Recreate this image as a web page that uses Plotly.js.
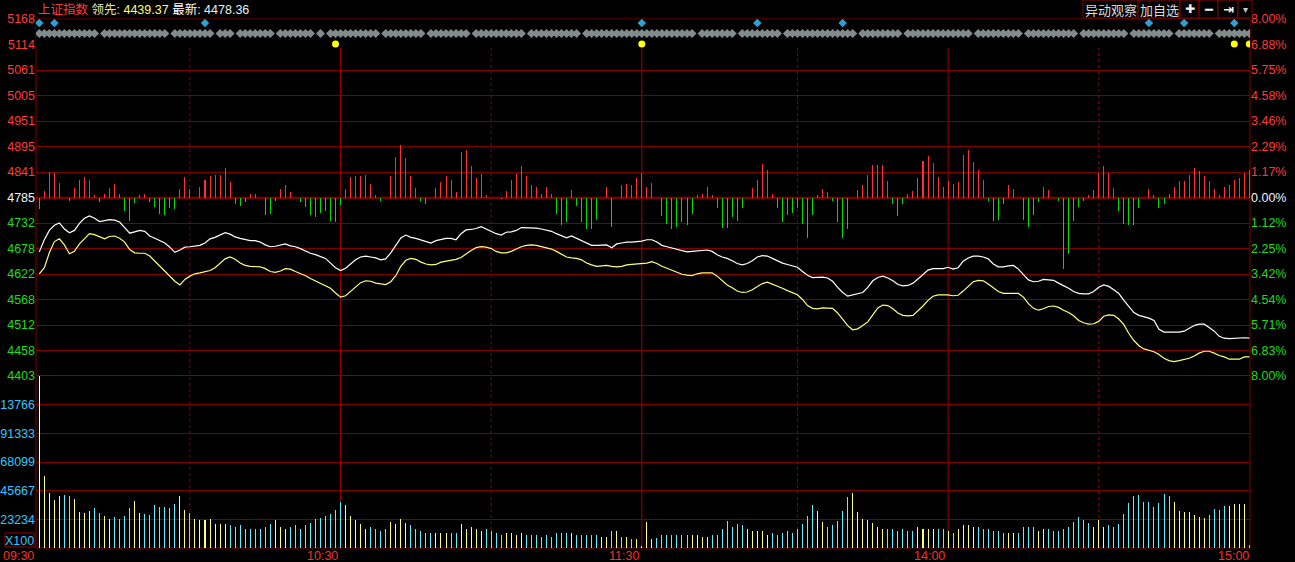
<!DOCTYPE html>
<html><head><meta charset="utf-8">
<script src="https://cdn.plot.ly/plotly-3.0.1.min.js"></script>
<style>html,body{margin:0;padding:0;background:#000;overflow:hidden}#chart{width:1295px;height:562px}
#chart .trace.bars path{shape-rendering:crispEdges !important}</style>
</head><body><div id="chart"></div>
<script>
// ---------------- data ----------------
const prevClose = 4785;
const priceMin = 4403, priceMax = 5168;
const priceLabelsTopDown = ['5168','5114','5061','5005','4951','4895','4841','4785','4732','4678','4622','4568','4512','4458','4403'];
const pctLabelsTopDown = ['8.00%','6.88%','5.75%','4.58%','3.46%','2.29%','1.17%','0.00%','1.12%','2.25%','3.42%','4.54%','5.71%','6.83%','8.00%'];
const volTickLabels = ['23234','45667','68099','91333','13766'];
const volStep = 22753;
const timeLabels = ['09:30','10:30','11:30','14:00','15:00'];
const timeIdx = [0,60,120,181,241];
const halfHourIdx = [30,90,151,211];
const headerName = '上证指数';
const leadLabel = '领先:', leadValue = '4439.37';
const lastLabel = '最新:', lastValue = '4478.36';

// buy/sell strength bars (index points relative to previous close)
const bsBars = [
 -25,14,55,53,31,-1,-8,20,37,44, 37,6,-10,7,20,29,7,-29,-49,-12, 5,9,-10,-19,-34,-38,-21,-25,18,44,
 18,-1,24,37,46,48,48,63,33,-14, -17,-10,7,9,-1,-36,-34,-6,18,27, 12,-1,-10,-19,-36,-42,-32,-29,-49,-51,
 -16,18,44,46,46,48,29,5,-6,-1, 46,87,112,85,46,20,-8,-14,-1,20, 33,46,37,12,97,102,67,42,50,5, -1,
 -1,-2,14,37,50,67,46,27,24,9, 22,7,-34,-59,-53,16,-17,-53,-66,-68, -47,-1,22,-62,-1,27,29,27,42,52,
 24,31,-1,-40,-57,-68,-62,-51,-59,-34, 5,9,22,5,-21,-64,-64,-42,-49,-23, -1,20,39,72,59,7,-21,-51,-36,-32,
 -23,-57,-87,-36,5,18,12,-6,-53,-87, -68,-1,16,27,48,70,70,70,35,-14, -40,-14,9,14,42,78,89,74,44,22,
 35,29,33,91,102,76,59,39,-8,-49, -47,-14,27,18,-1,-47,-62,-38,-10,22, 16,-1,-6,-152,-120,-49,-19,-6,5,16, 54,
 67,54,20,-29,-57,-59,-59,-23,-1,18, 5,-23,-14,7,22,35,35,48,63,57, 46,35,18,5,22,27,37,42,52,59
];
// weighted index (white line)
const indexLine = [
 4669,4695,4715,4726,4731,4718,4710,4715,4730,4741, 4746,4741,4734,4736,4738,4737,4733,4721,4709,4712, 4715,4713,4703,4698,4693,4688,4679,4668,4673,4679,
 4680,4681,4683,4688,4697,4700,4705,4710,4707,4701, 4698,4695,4693,4693,4690,4684,4680,4681,4684,4686, 4682,4680,4676,4671,4666,4663,4659,4655,4645,4635,
 4629,4634,4643,4652,4658,4660,4658,4656,4652,4654, 4667,4683,4699,4705,4700,4698,4695,4691,4688,4693, 4695,4698,4698,4695,4708,4716,4717,4719,4723,4718, 4713,
 4708,4705,4711,4712,4715,4721,4721,4721,4720,4718, 4716,4713,4708,4703,4699,4703,4698,4693,4688,4683, 4683,4684,4684,4678,4686,4688,4690,4690,4691,4692,
 4695,4695,4690,4683,4680,4677,4674,4672,4669,4670, 4671,4673,4673,4670,4663,4658,4655,4650,4644,4641, 4644,4650,4658,4661,4660,4655,4650,4645,4642,4639,
 4636,4627,4619,4614,4614,4615,4613,4606,4593,4582, 4574,4577,4579,4582,4593,4607,4614,4617,4613,4607, 4599,4596,4597,4602,4611,4621,4630,4633,4633,4633,
 4636,4632,4635,4649,4656,4660,4660,4658,4654,4643, 4637,4637,4639,4640,4632,4620,4609,4605,4606,4610, 4609,4608,4602,4597,4591,4584,4580,4579,4579,4584, 4593,
 4598,4595,4588,4580,4565,4551,4539,4533,4530,4527, 4522,4503,4497,4497,4497,4497,4499,4505,4511,4514, 4514,4507,4499,4488,4484,4483,4484,4485,4485,4484
];
// leading (unweighted) index (yellow line)
const leadLine = [
 4622,4635,4667,4691,4697,4684,4665,4670,4686,4697, 4708,4706,4701,4697,4702,4703,4698,4690,4674,4667, 4666,4666,4660,4649,4638,4628,4617,4606,4598,4610,
 4617,4622,4624,4626,4629,4635,4645,4654,4658,4653, 4645,4640,4638,4638,4637,4633,4627,4625,4628,4633, 4632,4627,4623,4618,4612,4607,4602,4597,4591,4581,
 4572,4575,4584,4595,4603,4607,4606,4602,4600,4599, 4605,4618,4638,4651,4655,4653,4647,4643,4641,4642, 4647,4649,4652,4653,4657,4665,4672,4678,4680,4679, 4676,
 4670,4667,4667,4670,4675,4680,4683,4684,4683,4680, 4678,4675,4670,4664,4658,4656,4655,4652,4645,4641, 4638,4639,4640,4638,4637,4638,4641,4642,4643,4643,
 4645,4648,4644,4638,4634,4630,4625,4621,4619,4618, 4622,4624,4624,4624,4617,4607,4598,4592,4585,4582, 4583,4588,4595,4601,4604,4600,4595,4591,4586,4582,
 4577,4567,4554,4548,4547,4549,4549,4548,4538,4524, 4511,4502,4504,4511,4519,4534,4549,4555,4554,4547, 4538,4533,4532,4533,4542,4553,4565,4574,4577,4577,
 4577,4575,4576,4585,4595,4605,4608,4607,4600,4591, 4584,4580,4580,4580,4580,4572,4558,4548,4544,4547, 4552,4553,4550,4544,4539,4532,4522,4517,4514,4515, 4520,
 4531,4534,4533,4525,4513,4494,4479,4468,4461,4458, 4455,4449,4441,4436,4434,4436,4438,4441,4446,4452, 4456,4456,4452,4447,4444,4439,4439,4439,4444,4444
];
// volume (x100)
const volume = [
 136500,57340,43910,38230,41180,42090,41180,38910,28670,27760, 29350,31630,27530,25260,22750,24350,22750,25260,31630,37320, 27530,26850,25940,33900,32310,32310,31630,34810,41180,30030,
 27530,22750,21840,21840,22750,18660,18660,18660,17970,17060, 17970,15470,14790,14790,15470,17060,18660,21840,17060,15470, 16380,17970,14790,17970,19570,22750,23660,25260,26850,30030,
 36400,33900,25260,21840,18660,15470,17060,15470,13880,14790, 20250,18660,22750,19570,17970,15470,13200,11600,11600,11600, 12290,11600,12290,11600,18660,15470,17060,14790,13880,14790, 13880,
 12290,10010,11600,12290,10010,12290,10690,10690,10690,9100, 10010,9100,11600,11600,11600,12290,10690,10010,10690,10690, 10010,9100,9100,13880,13880,9100,9100,7510,7510,1820,
 20250,7510,8190,10010,10010,10690,10690,10690,10690,10690, 10690,9100,9100,10010,10690,15470,21160,17060,18660,17970, 14790,13880,13880,13200,10010,11600,10010,12290,13880,11600,
 15470,18660,25260,33900,29120,20250,17060,17970,21160,29120, 40500,43690,28440,22750,21840,19570,16380,14790,14790,14790, 13880,14790,13880,13880,17060,14790,15470,15470,14790,14790,
 13880,11600,14790,17970,17970,17060,16380,15470,15470,13880, 13200,11600,12290,12290,12290,16380,17060,16380,13880,14790, 15470,13880,13880,14790,17060,20250,24350,21840,19570,17060, 21840,
 16380,17970,16380,18660,26850,35490,41180,42090,36400,36400, 32310,35490,42780,41180,36400,29120,28440,28440,25940,24350, 23660,25940,30720,30030,33220,33220,34810,34810,34810,2730
];
// 1 = up minute, -1 = down minute, 0 = opening
const volDir = [
 0,1,1,1,1,-1,-1,1,1,1, 1,-1,-1,1,1,-1,-1,-1,-1,1, 1,-1,-1,-1,-1,-1,-1,-1,1,1,
 -1,1,1,1,1,1,1,1,-1,-1, -1,-1,-1,-1,-1,-1,-1,1,1,1, -1,-1,-1,-1,-1,-1,-1,-1,-1,-1,
 -1,1,1,1,1,1,-1,-1,-1,-1, 1,1,1,1,-1,-1,-1,-1,-1,1, 1,1,-1,-1,1,1,1,1,1,-1, -1,
 -1,-1,1,1,1,1,-1,-1,-1,-1, -1,-1,-1,-1,-1,1,-1,-1,-1,-1, -1,1,1,-1,1,-1,1,-1,1,1,
 1,1,-1,-1,-1,-1,-1,-1,-1,1, 1,1,1,-1,-1,-1,-1,-1,-1,-1, 1,1,1,1,1,-1,-1,-1,-1,-1,
 -1,-1,-1,-1,1,1,-1,-1,-1,-1, -1,1,1,1,1,1,1,1,-1,-1, -1,-1,-1,-1,1,1,1,1,-1,-1,
 1,-1,1,1,1,1,-1,-1,-1,-1, -1,-1,1,1,-1,-1,-1,-1,1,1, -1,-1,-1,-1,-1,-1,-1,-1,-1,1, 1,
 1,-1,-1,-1,-1,-1,-1,-1,-1,-1, -1,-1,-1,-1,1,1,1,1,1,1, 1,-1,-1,-1,-1,1,1,1,1,-1
];
// event markers (minute indices)
const signalGaps = [12,26,35,39,47,55,57,68,77,86,97,108,131,139,148,163,172,186,196,207,217,226,234];
const blueSignals = [0,3,33,120,143,160,221,228,238];
const yellowSignals = [59,120,238,241];

// ---------------- drawing ----------------
const N = indexLine.length;
const idx = Array.from({length:N},(_,i)=>i);
const RED='#ff3a3a', GREEN='#1fdc1f', CYAN='#2cc8ff', GRID='#800000';
const L=36, R=1250, T=19, B=548, W=R-L, H=B-T;
const px = x => (x-L)/W, py = y => (B-y)/H;
const priceDomTop = 1, priceDomBot = py(376);
const nT = priceLabelsTopDown.length;
const tickVals = Array.from({length:nT},(_,k)=>priceMin + k*(priceMax-priceMin)/(nT-1));
const lblColor = k => k>7 ? RED : (k===7 ? '#f0f4ff' : GREEN); // k from bottom
const leftText = priceLabelsTopDown.slice().reverse().map((t,k)=>`<span style="color:${lblColor(k)}">${t}</span>`);
const rightText = pctLabelsTopDown.slice().reverse().map((t,k)=>`<span style="color:${lblColor(k)}">${t}</span>`);

const volColor = volDir.map(d => d===0 ? '#ffffff' : (d>0 ? '#ffff7a' : '#5ff0ff'));
const grayIdx = idx.filter(i => !signalGaps.includes(i));

const traces = [
 {type:'bar', x:idx, y:bsBars, base:prevClose, width:0.2, yaxis:'y',
  marker:{color:bsBars.map(v=>v>=0?'#ff3030':'#00dc00'), line:{width:0}}, hoverinfo:'skip'},
 {type:'scatter', mode:'lines', x:idx, y:indexLine, yaxis:'y', line:{color:'#ffffff', width:1.2}, hoverinfo:'skip'},
 {type:'scatter', mode:'lines', x:idx, y:leadLine, yaxis:'y', line:{color:'#ffff7a', width:1.2}, hoverinfo:'skip'},
 {type:'bar', x:idx, y:volume, width:0.2, yaxis:'y3', marker:{color:volColor, line:{width:0}}, hoverinfo:'skip'},
 {type:'scatter', mode:'markers', x:grayIdx, y:grayIdx.map(()=>2), yaxis:'y4',
  marker:{symbol:'diamond', size:7, color:'#838c8c', line:{width:0}}, hoverinfo:'skip'},
 {type:'scatter', mode:'markers', x:blueSignals, y:blueSignals.map(()=>3), yaxis:'y4',
  marker:{symbol:'diamond', size:6.5, color:'#2aa2d4', line:{width:0}}, hoverinfo:'skip'},
 {type:'scatter', mode:'markers', x:yellowSignals, y:yellowSignals.map(()=>1), yaxis:'y4',
  marker:{symbol:'circle', size:7, color:'#ffff00', line:{width:0}}, hoverinfo:'skip'}
];

const FONT = 'Liberation Sans, Arial, Noto Sans CJK SC, sans-serif';
const shapes = [];
// frame
shapes.push({type:'rect', xref:'paper', yref:'paper', x0:0, x1:1, y0:0, y1:1, line:{color:GRID, width:1}, layer:'below'});
// hour lines
[60,120,181].forEach(i=>shapes.push({type:'line', xref:'x', yref:'paper', x0:i, x1:i, y0:0, y1:1, line:{color:'#a00000', width:1}, layer:'below'}));
halfHourIdx.forEach(i=>shapes.push({type:'line', xref:'x', yref:'paper', x0:i, x1:i, y0:0, y1:1, line:{color:'#8a0000', width:1, dash:'dot'}, layer:'below'}));
// previous close line and panel separator
shapes.push({type:'line', xref:'paper', yref:'y', x0:0, x1:1, y0:prevClose, y1:prevClose, line:{color:'#a00000', width:2.2}, layer:'below'});
shapes.push({type:'line', xref:'paper', yref:'y', x0:0, x1:1, y0:priceMin, y1:priceMin, line:{color:'#8a0000', width:2.2}, layer:'below'});
// header buttons
const btns = [[1083,1138,'异动观察',13,'#dcdcdc','Noto Sans CJK SC'],[1138,1180,'加自选',13,'#dcdcdc','Noto Sans CJK SC'],
              [1180,1199,'✚',12,'#f0f0f0','DejaVu Sans'],[1199,1218,'━',13,'#f0f0f0','DejaVu Sans'],
              [1218,1238,'<b>⇥</b>',13,'#f0f0f0','DejaVu Sans'],[1238,1252,'▾',10,'#c8c8c8','DejaVu Sans']];
const annotations = [];
btns.forEach(([a,b,t,s,c,f])=>{
  shapes.push({type:'rect', xref:'paper', yref:'paper', x0:px(a), x1:px(b), y0:py(18), y1:py(0), line:{color:'#8a0000', width:1}, fillcolor:'#000', layer:'above'});
  annotations.push({xref:'paper', yref:'paper', x:px((a+b)/2), y:py(9), xanchor:'center', yanchor:'middle', showarrow:false,
    text:t, font:{family:f+', DejaVu Sans, sans-serif', size:s, color:c}});
});
// X100 box
shapes.push({type:'rect', xref:'paper', yref:'paper', x0:px(5), x1:px(34), y0:py(547), y1:py(533), line:{color:'#a00000', width:1}, layer:'above'});
annotations.push({xref:'paper', yref:'paper', x:px(19.5), y:py(540.5), xanchor:'center', yanchor:'middle', showarrow:false,
  text:'X100', font:{family:FONT, size:12.5, color:CYAN}});
// header text
annotations.push({xref:'paper', yref:'paper', x:px(36), y:py(9.5), xanchor:'left', yanchor:'middle', showarrow:false,
  text:`<span style="color:#ff3a3a">${headerName}</span> <span style="color:#e6e6b4">${leadLabel}</span> <span style="color:#ffff70">${leadValue}</span> <span style="color:#ffffff">${lastLabel}</span> <span style="color:#e4f0ff">${lastValue}</span>`,
  font:{family:'Liberation Sans, Noto Sans CJK SC, sans-serif', size:12.5, color:'#fff'}});
// time labels
timeLabels.forEach((t,k)=>annotations.push({xref:'x', yref:'paper', x:timeIdx[k], y:0, xanchor:'right', yanchor:'top',
  xshift: k===0 ? -3 : (k===4 ? 2 : -1), yshift:1, showarrow:false, text:t, font:{family:FONT, size:12.5, color:'#ff2e2e'}}));

const layout = {
  width:1295, height:562, margin:{l:L, r:1295-R, t:T, b:562-B, pad:0},
  paper_bgcolor:'#000', plot_bgcolor:'#000', showlegend:false, barmode:'overlay', hovermode:false,
  font:{family:FONT, size:12.5},
  xaxis:{range:[-(39.3-L)/5.021, (R-39.3)/5.021], showgrid:false, zeroline:false, showticklabels:false, ticks:'', showline:false, fixedrange:true},
  yaxis:{domain:[priceDomBot, priceDomTop], range:[priceMin, priceMax], tickmode:'array', tickvals:tickVals, ticktext:leftText,
         showgrid:true, gridcolor:GRID, gridwidth:1, zeroline:false, ticks:'', showline:false, tickfont:{size:12.5, family:FONT}, automargin:false, fixedrange:true},
  yaxis2:{overlaying:'y', side:'right', range:[priceMin, priceMax], tickmode:'array', tickvals:tickVals, ticktext:rightText,
         showgrid:false, zeroline:false, ticks:'', showline:false, tickfont:{size:12.5, family:FONT}, automargin:false, fixedrange:true},
  yaxis3:{domain:[0, priceDomBot], range:[0, 6*volStep], tickmode:'array', tickvals:volTickLabels.map((_,k)=>(k+1)*volStep), ticktext:volTickLabels,
         showgrid:true, gridcolor:GRID, gridwidth:1, zeroline:false, ticks:'', showline:false, tickfont:{size:12.5, family:FONT, color:CYAN}, automargin:false, fixedrange:true},
  yaxis4:{domain:[py(48), 1], range:[0.62, 3.38], visible:false, fixedrange:true},
  shapes, annotations
};
// invisible trace to activate yaxis2 ticks
traces.push({type:'scatter', mode:'none', x:[0], y:[prevClose], yaxis:'y2', hoverinfo:'skip'});

Plotly.newPlot('chart', traces, layout, {displayModeBar:false, staticPlot:true});
</script></body></html>
